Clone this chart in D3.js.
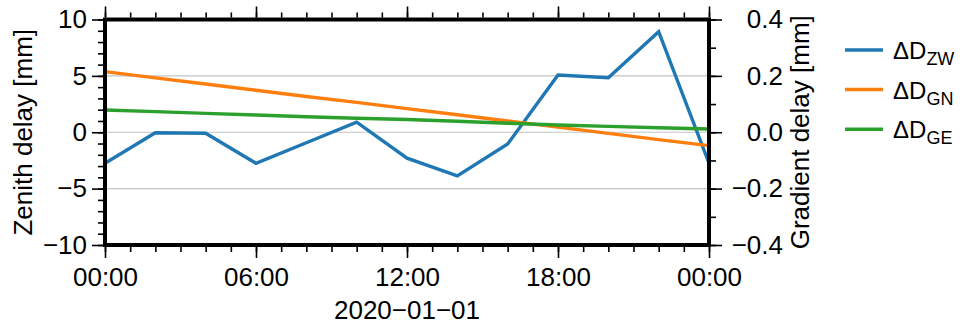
<!DOCTYPE html>
<html>
<head>
<meta charset="utf-8">
<script src="https://cdn.jsdelivr.net/npm/d3@7"></script>
<style>
  html, body { margin: 0; padding: 0; background: #fff; }
  svg { display: block; }
  text { font-family: "Liberation Sans", Arial, Helvetica, sans-serif; fill: #000; }
</style>
</head>
<body>
<svg id="chart" width="961" height="329"></svg>
<script>
// ---- data ----
const hours = [0, 2, 4, 6, 8, 10, 12, 14, 16, 18, 20, 22, 24];
const dZW = [-2.75, -0.04, -0.09, -2.75, -0.93, 0.89, -2.30, -3.87, -1.04, 5.08, 4.84, 8.92, -2.75]; // mm, left axis
const dGN = [0.215, 0.193, 0.171, 0.149, 0.127, 0.106, 0.084, 0.062, 0.040, 0.018, -0.004, -0.026, -0.0475]; // mm, right axis
const dGE = [0.079, 0.073, 0.067, 0.0613, 0.055, 0.0496, 0.045, 0.039, 0.032, 0.0259, 0.021, 0.016, 0.0117]; // mm, right axis
const leftTicks = [-10, -5, 0, 5, 10];
const rightTicks = [-0.4, -0.2, 0.0, 0.2, 0.4];
const gridValues = [-5, 0, 5];
const xTickHours = [0, 6, 12, 18, 24];
const seriesNames = ["ZW", "GN", "GE"];
const seriesColors = ["#1f77b4", "#ff7f0e", "#2ca02c"];
const dateLabel = "2020\u221201\u221201";
const leftTitle = "Zenith delay [mm]";
const rightTitle = "Gradient delay [mm]";

// ---- layout ----
const svg = d3.select("#chart");
const X0 = 105, X1 = 709, Y0 = 19.5, Y1 = 245;
const t0 = Date.UTC(2020, 0, 1);
const toDate = h => new Date(t0 + h * 3600e3);

const x = d3.scaleUtc().domain([toDate(0), toDate(24)]).range([X0, X1]);
const yL = d3.scaleLinear().domain([-10, 10]).range([Y1, Y0]);
const yR = d3.scaleLinear().domain([-0.4, 0.4]).range([Y1, Y0]);
const minus = s => s.replace(/-/g, "\u2212");
const FS = 26;

// gridlines
svg.append("g").selectAll("line").data(gridValues).join("line")
  .attr("x1", X0).attr("x2", X1)
  .attr("y1", d => yL(d)).attr("y2", d => yL(d))
  .attr("stroke", "#c4c4c4").attr("stroke-width", 1.2);

// series
svg.append("clipPath").attr("id", "clip").append("rect")
  .attr("x", X0).attr("y", Y0).attr("width", X1 - X0).attr("height", Y1 - Y0);
const plot = svg.append("g").attr("clip-path", "url(#clip)");
const lineL = d3.line().x((d, i) => x(toDate(hours[i]))).y(d => yL(d));
const lineR = d3.line().x((d, i) => x(toDate(hours[i]))).y(d => yR(d));
plot.append("path").datum(dZW).attr("d", lineL).attr("fill", "none")
  .attr("stroke", seriesColors[0]).attr("stroke-width", 3.4).attr("stroke-linejoin", "miter");
plot.append("path").datum(dGN).attr("d", lineR).attr("fill", "none")
  .attr("stroke", seriesColors[1]).attr("stroke-width", 3.4);
plot.append("path").datum(dGE).attr("d", lineR).attr("fill", "none")
  .attr("stroke", seriesColors[2]).attr("stroke-width", 3.4);

// axes ticks
function styleAxis(g) {
  g.select(".domain").remove();
  g.selectAll(".tick line").attr("stroke", "#000").attr("stroke-width", 1.6);
  g.selectAll(".tick text").attr("font-size", FS).attr("font-family", "Liberation Sans, Arial, sans-serif");
}
const hourTicks = d3.range(0, 25).map(toDate);
const majorX = xTickHours.map(toDate);
// bottom
svg.append("g").attr("transform", `translate(0,${Y1 + 2})`)
  .call(d3.axisBottom(x).tickValues(hourTicks).tickSize(5).tickFormat(""))
  .call(styleAxis);
svg.append("g").attr("transform", `translate(0,${Y1 + 2})`)
  .call(d3.axisBottom(x).tickValues(majorX).tickSize(11).tickPadding(10).tickFormat(d3.utcFormat("%H:%M")))
  .call(styleAxis);
// top
svg.append("g").attr("transform", `translate(0,${Y0 - 2})`)
  .call(d3.axisTop(x).tickValues(hourTicks).tickSize(5).tickFormat(""))
  .call(styleAxis);
svg.append("g").attr("transform", `translate(0,${Y0 - 2})`)
  .call(d3.axisTop(x).tickValues(majorX).tickSize(11).tickFormat(""))
  .call(styleAxis);
// left
svg.append("g").attr("transform", `translate(${X0 - 2},0)`)
  .call(d3.axisLeft(yL).tickValues(d3.range(-10, 11, 1)).tickSize(5).tickFormat(""))
  .call(styleAxis);
svg.append("g").attr("transform", `translate(${X0 - 2},0)`)
  .call(d3.axisLeft(yL).tickValues(leftTicks).tickSize(11).tickPadding(5).tickFormat(d => minus(String(d))))
  .call(styleAxis);
// right
svg.append("g").attr("transform", `translate(${X1 + 2},0)`)
  .call(d3.axisRight(yR).tickValues(d3.range(-4, 5, 1).map(d => d / 10)).tickSize(5).tickFormat(""))
  .call(styleAxis);
const ra = svg.append("g").attr("transform", `translate(${X1 + 2},0)`)
  .call(d3.axisRight(yR).tickValues(rightTicks).tickSize(11).tickFormat(d => minus(d3.format(".1f")(d))))
  .call(styleAxis);
ra.selectAll(".tick text").attr("text-anchor", "end").attr("x", 72);

// frame
svg.append("rect").attr("x", X0).attr("y", Y0).attr("width", X1 - X0).attr("height", Y1 - Y0)
  .attr("fill", "none").attr("stroke", "#000").attr("stroke-width", 4);

// axis titles
svg.append("text").attr("transform", `translate(32,${(Y0 + Y1) / 2}) rotate(-90)`)
  .attr("text-anchor", "middle").attr("font-size", FS).text(leftTitle);
svg.append("text").attr("transform", `translate(809,${(Y0 + Y1) / 2}) rotate(-90)`)
  .attr("text-anchor", "middle").attr("font-size", FS).text(rightTitle);
svg.append("text").attr("x", (X0 + X1) / 2).attr("y", 319)
  .attr("text-anchor", "middle").attr("font-size", FS).text(dateLabel);

// legend
const lg = svg.append("g");
seriesNames.forEach((n, i) => {
  const ly = 50 + i * 39.6;
  lg.append("line").attr("x1", 845).attr("x2", 883).attr("y1", ly).attr("y2", ly)
    .attr("stroke", seriesColors[i]).attr("stroke-width", 3.5);
  const t = lg.append("text").attr("x", 893).attr("y", ly + 9).attr("font-size", 24);
  t.append("tspan").text("\u0394D");
  t.append("tspan").attr("dy", 6).attr("font-size", 18).text(n);
});
</script>
</body>
</html>
